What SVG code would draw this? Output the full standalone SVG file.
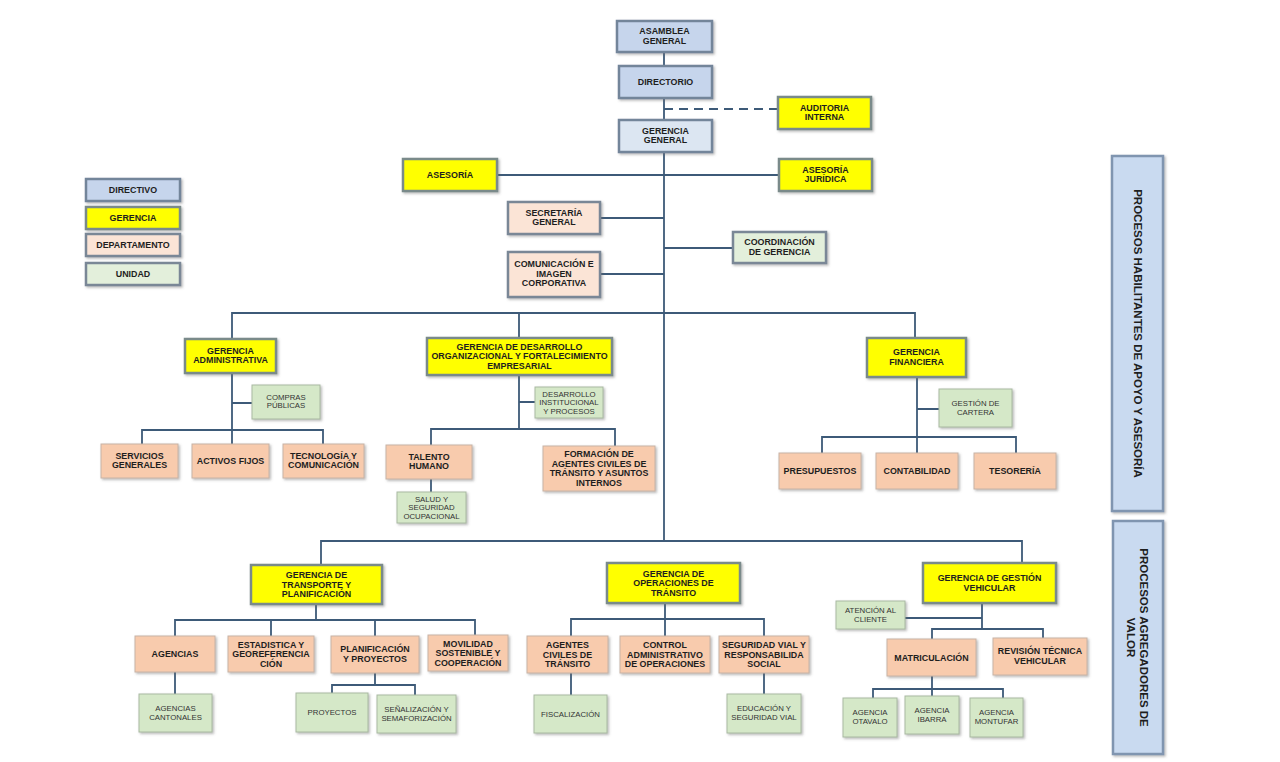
<svg xmlns="http://www.w3.org/2000/svg" width="1280" height="762" viewBox="0 0 1280 762">
<defs>
<filter id="sh" x="-10%" y="-10%" width="130%" height="140%">
<feDropShadow dx="1.5" dy="1.5" stdDeviation="1" flood-color="#666" flood-opacity="0.45"/>
</filter>
<style>
text{font-family:"Liberation Sans",Arial,sans-serif;text-anchor:middle;fill:#1e1e1e}
.b{font-size:8.9px;font-weight:bold}
.u{font-size:7.8px;fill:#333}
.side{font-size:11.5px;font-weight:bold}
rect{filter:url(#sh)}
.dir{fill:#c6d5ec;stroke:#73859a;stroke-width:2.5}
.gg{fill:#dce6f2;stroke:#73859a;stroke-width:2.5}
.ger{fill:#ffff00;stroke:#7a8a8a;stroke-width:2.5}
.dep{fill:#fbe4d6;stroke:#7a8796;stroke-width:2.5}
.uni{fill:#e3efdb;stroke:#7a8796;stroke-width:2.5}
.dp{fill:#f8cbad;stroke:#c7b3a6;stroke-width:1}
.un{fill:#d5e8c8;stroke:#a9b9a2;stroke-width:1}
.sp{fill:#c9daf0;stroke:#8095b0;stroke-width:2.5}
.c{fill:none;stroke:#3d5a78;stroke-width:1.8}
.d{fill:none;stroke:#3d5a78;stroke-width:1.8;stroke-dasharray:9 6}
</style>
</defs>
<rect x="0" y="0" width="1280" height="762" fill="#ffffff" style="filter:none"/>

<g id="connectors">
<path class="c" d="M664 52V66M664 98V120M664 152V542"/>
<path class="d" d="M664 109H778"/>
<path class="c" d="M497 175H779M600 218H664M664 248H733M600 274H664"/>
<path class="c" d="M232 339V313H915V338M519 313V338"/>
<path class="c" d="M232 373V444M232 403H252M142 444V430H323V444"/>
<path class="c" d="M519 375V429M519 402H535M431 445V429H615V446M431 479V492"/>
<path class="c" d="M917 377V453M917 409H939M822 453V437H1016V453"/>
<path class="c" d="M321 565V541H1022V563"/>
<path class="c" d="M316 604V620M175 636V620H475V635M271 620V636M375 620V636M175 672V694M375 673V685M332 693V685H415V695"/>
<path class="c" d="M665 603V636M571 636V619H764V636M571 673V695M764 673V694"/>
<path class="c" d="M982 603V629M905 618H982M932 639V629H1043V638M932 676V696M873 698V689H1003V698"/>
</g>

<g id="legend-directivo"><rect class="dir" x="86" y="179" width="94" height="22"/><text class="b" x="133" y="193">DIRECTIVO</text></g>
<g id="legend-gerencia"><rect class="ger" x="86" y="207" width="94" height="22"/><text class="b" x="133" y="221">GERENCIA</text></g>
<g id="legend-departamento"><rect class="dep" x="86" y="234" width="94" height="22"/><text class="b" x="133" y="248">DEPARTAMENTO</text></g>
<g id="legend-unidad"><rect class="uni" x="86" y="263" width="94" height="22"/><text class="b" x="133" y="277">UNIDAD</text></g>

<g id="asamblea"><rect class="dir" x="617" y="21" width="95" height="31"/><text class="b" x="664.5" y="34"><tspan x="664.5">ASAMBLEA</tspan><tspan x="664.5" dy="9.7">GENERAL</tspan></text></g>
<g id="directorio"><rect class="dir" x="619" y="66" width="93" height="32"/><text class="b" x="665.5" y="85">DIRECTORIO</text></g>
<g id="auditoria"><rect class="ger" x="778" y="97" width="93" height="32"/><text class="b" x="824.5" y="110.5"><tspan x="824.5">AUDITORIA</tspan><tspan x="824.5" dy="9.7">INTERNA</tspan></text></g>
<g id="gerencia-general"><rect class="gg" x="619" y="120" width="93" height="32"/><text class="b" x="665.5" y="133.5"><tspan x="665.5">GERENCIA</tspan><tspan x="665.5" dy="9.7">GENERAL</tspan></text></g>
<g id="asesoria"><rect class="ger" x="403" y="159" width="94" height="32"/><text class="b" x="450" y="178">ASESORÍA</text></g>
<g id="asesoria-juridica"><rect class="ger" x="779" y="159" width="93" height="32"/><text class="b" x="825.5" y="172.5"><tspan x="825.5">ASESORÍA</tspan><tspan x="825.5" dy="9.7">JURÍDICA</tspan></text></g>
<g id="secretaria"><rect class="dep" x="508" y="202" width="92" height="32"/><text class="b" x="554" y="215.5"><tspan x="554">SECRETARÍA</tspan><tspan x="554" dy="9.7">GENERAL</tspan></text></g>
<g id="coordinacion"><rect class="uni" x="733" y="232" width="93" height="31"/><text class="b" x="779.5" y="245"><tspan x="779.5">COORDINACIÓN</tspan><tspan x="779.5" dy="9.7">DE GERENCIA</tspan></text></g>
<g id="comunicacion"><rect class="dep" x="508" y="252" width="92" height="45"/><text class="b" x="554" y="267"><tspan x="554">COMUNICACIÓN E</tspan><tspan x="554" dy="9.7">IMAGEN</tspan><tspan x="554" dy="9.7">CORPORATIVA</tspan></text></g>

<g id="g-administrativa"><rect class="ger" x="185" y="339" width="91" height="34"/><text class="b" x="230.5" y="353.5"><tspan x="230.5">GERENCIA</tspan><tspan x="230.5" dy="9.7">ADMINISTRATIVA</tspan></text></g>
<g id="compras"><rect class="un" x="252" y="385" width="68" height="34"/><text class="u" x="286" y="399.5"><tspan x="286">COMPRAS</tspan><tspan x="286" dy="8.5">PÚBLICAS</tspan></text></g>
<g id="servicios"><rect class="dp" x="101" y="444" width="77" height="34"/><text class="b" x="139.5" y="458.5"><tspan x="139.5">SERVICIOS</tspan><tspan x="139.5" dy="9.7">GENERALES</tspan></text></g>
<g id="activos"><rect class="dp" x="192" y="444" width="77" height="34"/><text class="b" x="230.5" y="464">ACTIVOS FIJOS</text></g>
<g id="tecnologia"><rect class="dp" x="283" y="444" width="81" height="34"/><text class="b" x="323.5" y="458.5"><tspan x="323.5">TECNOLOGÍA Y</tspan><tspan x="323.5" dy="9.7">COMUNICACIÓN</tspan></text></g>

<g id="g-desarrollo"><rect class="ger" x="427" y="338" width="185" height="37"/><text class="b" x="519.5" y="349.5"><tspan x="519.5">GERENCIA DE DESARROLLO</tspan><tspan x="519.5" dy="9.7">ORGANIZACIONAL  Y FORTALECIMIENTO</tspan><tspan x="519.5" dy="9.7">EMPRESARIAL</tspan></text></g>
<g id="desarrollo-inst"><rect class="un" x="535" y="387" width="68" height="31"/><text class="u" x="569" y="397"><tspan x="569">DESARROLLO</tspan><tspan x="569" dy="8.3">INSTITUCIONAL</tspan><tspan x="569" dy="8.3">Y PROCESOS</tspan></text></g>
<g id="talento"><rect class="dp" x="386" y="445" width="86" height="34"/><text class="b" x="429" y="459.5"><tspan x="429">TALENTO</tspan><tspan x="429" dy="9.7">HUMANO</tspan></text></g>
<g id="formacion"><rect class="dp" x="543" y="446" width="112" height="45"/><text class="b" x="599" y="457"><tspan x="599">FORMACIÓN DE</tspan><tspan x="599" dy="9.7">AGENTES CIVILES  DE</tspan><tspan x="599" dy="9.7">TRÁNSITO Y ASUNTOS</tspan><tspan x="599" dy="9.7">INTERNOS</tspan></text></g>
<g id="salud"><rect class="un" x="397" y="492" width="69" height="31"/><text class="u" x="431.5" y="502"><tspan x="431.5">SALUD Y</tspan><tspan x="431.5" dy="8.3">SEGURIDAD</tspan><tspan x="431.5" dy="8.3">OCUPACIONAL</tspan></text></g>

<g id="g-financiera"><rect class="ger" x="867" y="338" width="99" height="39"/><text class="b" x="916.5" y="355"><tspan x="916.5">GERENCIA</tspan><tspan x="916.5" dy="9.7">FINANCIERA</tspan></text></g>
<g id="cartera"><rect class="un" x="939" y="389" width="73" height="38"/><text class="u" x="975.5" y="406"><tspan x="975.5">GESTIÓN DE</tspan><tspan x="975.5" dy="8.5">CARTERA</tspan></text></g>
<g id="presupuestos"><rect class="dp" x="779" y="453" width="82" height="36"/><text class="b" x="820" y="474">PRESUPUESTOS</text></g>
<g id="contabilidad"><rect class="dp" x="876" y="453" width="82" height="36"/><text class="b" x="917" y="474">CONTABILIDAD</text></g>
<g id="tesoreria"><rect class="dp" x="974" y="453" width="82" height="36"/><text class="b" x="1015" y="474">TESORERÍA</text></g>

<g id="g-transporte"><rect class="ger" x="251" y="565" width="131" height="39"/><text class="b" x="316.5" y="578"><tspan x="316.5">GERENCIA DE</tspan><tspan x="316.5" dy="9.7">TRANSPORTE Y</tspan><tspan x="316.5" dy="9.7">PLANIFICACIÓN</tspan></text></g>
<g id="agencias"><rect class="dp" x="135" y="636" width="80" height="36"/><text class="b" x="175" y="657">AGENCIAS</text></g>
<g id="estadistica"><rect class="dp" x="228" y="636" width="86" height="36"/><text class="b" x="271" y="647.5"><tspan x="271">ESTADISTICA Y</tspan><tspan x="271" dy="9.7">GEOREFERENCIA</tspan><tspan x="271" dy="9.7">CIÓN</tspan></text></g>
<g id="planificacion"><rect class="dp" x="331" y="636" width="88" height="37"/><text class="b" x="375" y="652"><tspan x="375">PLANIFICACIÓN</tspan><tspan x="375" dy="9.7">Y PROYECTOS</tspan></text></g>
<g id="movilidad"><rect class="dp" x="428" y="635" width="80" height="36"/><text class="b" x="468" y="646.5"><tspan x="468">MOVILIDAD</tspan><tspan x="468" dy="9.7">SOSTENIBLE Y</tspan><tspan x="468" dy="9.7">COOPERACIÓN</tspan></text></g>
<g id="agencias-cantonales"><rect class="un" x="139" y="694" width="73" height="38"/><text class="u" x="175.5" y="711"><tspan x="175.5">AGENCIAS</tspan><tspan x="175.5" dy="8.5">CANTONALES</tspan></text></g>
<g id="proyectos"><rect class="un" x="296" y="693" width="72" height="39"/><text class="u" x="332" y="715">PROYECTOS</text></g>
<g id="senalizacion"><rect class="un" x="377" y="695" width="79" height="38"/><text class="u" x="416.5" y="712"><tspan x="416.5">SEÑALIZACIÓN Y</tspan><tspan x="416.5" dy="8.5">SEMAFORIZACIÓN</tspan></text></g>

<g id="g-operaciones"><rect class="ger" x="607" y="563" width="133" height="40"/><text class="b" x="673.5" y="576.5"><tspan x="673.5">GERENCIA DE</tspan><tspan x="673.5" dy="9.7">OPERACIONES  DE</tspan><tspan x="673.5" dy="9.7">TRÁNSITO</tspan></text></g>
<g id="agentes"><rect class="dp" x="527" y="636" width="81" height="37"/><text class="b" x="567.5" y="648"><tspan x="567.5">AGENTES</tspan><tspan x="567.5" dy="9.7">CIVILES  DE</tspan><tspan x="567.5" dy="9.7">TRÁNSITO</tspan></text></g>
<g id="control"><rect class="dp" x="620" y="636" width="90" height="37"/><text class="b" x="665" y="648"><tspan x="665">CONTROL</tspan><tspan x="665" dy="9.7">ADMINISTRATIVO</tspan><tspan x="665" dy="9.7">DE OPERACIONES</tspan></text></g>
<g id="seguridad-vial"><rect class="dp" x="719" y="636" width="90" height="37"/><text class="b" x="764" y="648"><tspan x="764">SEGURIDAD VIAL Y</tspan><tspan x="764" dy="9.7">RESPONSABILIDA</tspan><tspan x="764" dy="9.7">SOCIAL</tspan></text></g>
<g id="fiscalizacion"><rect class="un" x="534" y="695" width="73" height="38"/><text class="u" x="570.5" y="716.5">FISCALIZACIÓN</text></g>
<g id="educacion"><rect class="un" x="727" y="694" width="74" height="39"/><text class="u" x="764" y="711"><tspan x="764">EDUCACIÓN Y</tspan><tspan x="764" dy="8.5">SEGURIDAD VIAL</tspan></text></g>

<g id="g-vehicular"><rect class="ger" x="923" y="563" width="133" height="40"/><text class="b" x="989.5" y="581"><tspan x="989.5">GERENCIA DE GESTIÓN</tspan><tspan x="989.5" dy="9.7">VEHICULAR</tspan></text></g>
<g id="atencion"><rect class="un" x="836" y="601" width="69" height="28"/><text class="u" x="870.5" y="613"><tspan x="870.5">ATENCIÓN AL</tspan><tspan x="870.5" dy="8.5">CLIENTE</tspan></text></g>
<g id="matriculacion"><rect class="dp" x="887" y="639" width="89" height="37"/><text class="b" x="931.5" y="660.5">MATRICULACIÓN</text></g>
<g id="revision"><rect class="dp" x="993" y="638" width="94" height="37"/><text class="b" x="1040" y="654"><tspan x="1040">REVISIÓN  TÉCNICA</tspan><tspan x="1040" dy="9.7">VEHICULAR</tspan></text></g>
<g id="otavalo"><rect class="un" x="843" y="698" width="54" height="39"/><text class="u" x="870" y="715"><tspan x="870">AGENCIA</tspan><tspan x="870" dy="8.5">OTAVALO</tspan></text></g>
<g id="ibarra"><rect class="un" x="905" y="696" width="54" height="38"/><text class="u" x="932" y="713"><tspan x="932">AGENCIA</tspan><tspan x="932" dy="8.5">IBARRA</tspan></text></g>
<g id="montufar"><rect class="un" x="970" y="698" width="53" height="39"/><text class="u" x="996.5" y="715"><tspan x="996.5">AGENCIA</tspan><tspan x="996.5" dy="8.5">MONTUFAR</tspan></text></g>

<g id="procesos-habilitantes"><rect class="sp" x="1112" y="156" width="51" height="355"/><text class="side" transform="translate(1137.5 333.5) rotate(90)" x="0" y="4">PROCESOS HABILITANTES DE APOYO Y ASESORÍA</text></g>
<g id="procesos-agregadores"><rect class="sp" x="1113" y="521" width="50" height="233"/><text class="side" transform="translate(1138 637.5) rotate(90)" x="0" y="-2"><tspan x="0">PROCESOS AGREGADORES DE</tspan><tspan x="0" dy="13">VALOR</tspan></text></g>
</svg>
